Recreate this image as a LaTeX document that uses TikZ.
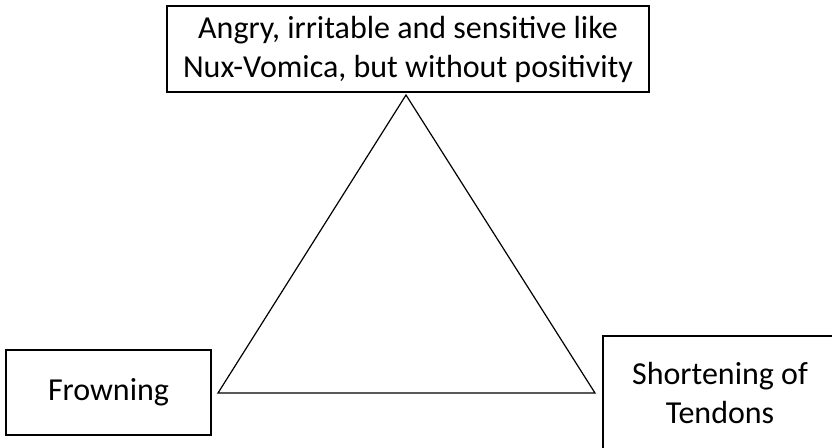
\documentclass[tikz,border=0pt]{standalone}
\usepackage{fontspec}
\setmainfont{Carlito}

\begin{document}
\begin{tikzpicture}[
x=0.5pt,y=-0.5pt,
box/.style={draw,line width=1pt,align=center,inner sep=0pt,font=\fontsize{16}{19.5}\selectfont},
edge/.style={line width=0.6pt,line join=miter}
]
\clip (0,0) rectangle (832,447);

\node[box,minimum width=241pt,minimum height=43pt] (anger) at (408,49)
    {Angry, irritable and sensitive like\\Nux-Vomica, but without positivity};
\node[box,minimum width=102.5pt,minimum height=42.5pt] (frown) at (108.5,392.5) {Frowning};
\node[box,minimum width=117pt,minimum height=56.5pt] (tendon) at (720,392.5)
    {Shortening of\\Tendons};

\coordinate (top) at (406,95);
\coordinate (left) at (218,393);
\coordinate (right) at (595,393);
\draw[edge] (top) -- (left) -- (right) -- cycle;

\end{tikzpicture}
\end{document}
